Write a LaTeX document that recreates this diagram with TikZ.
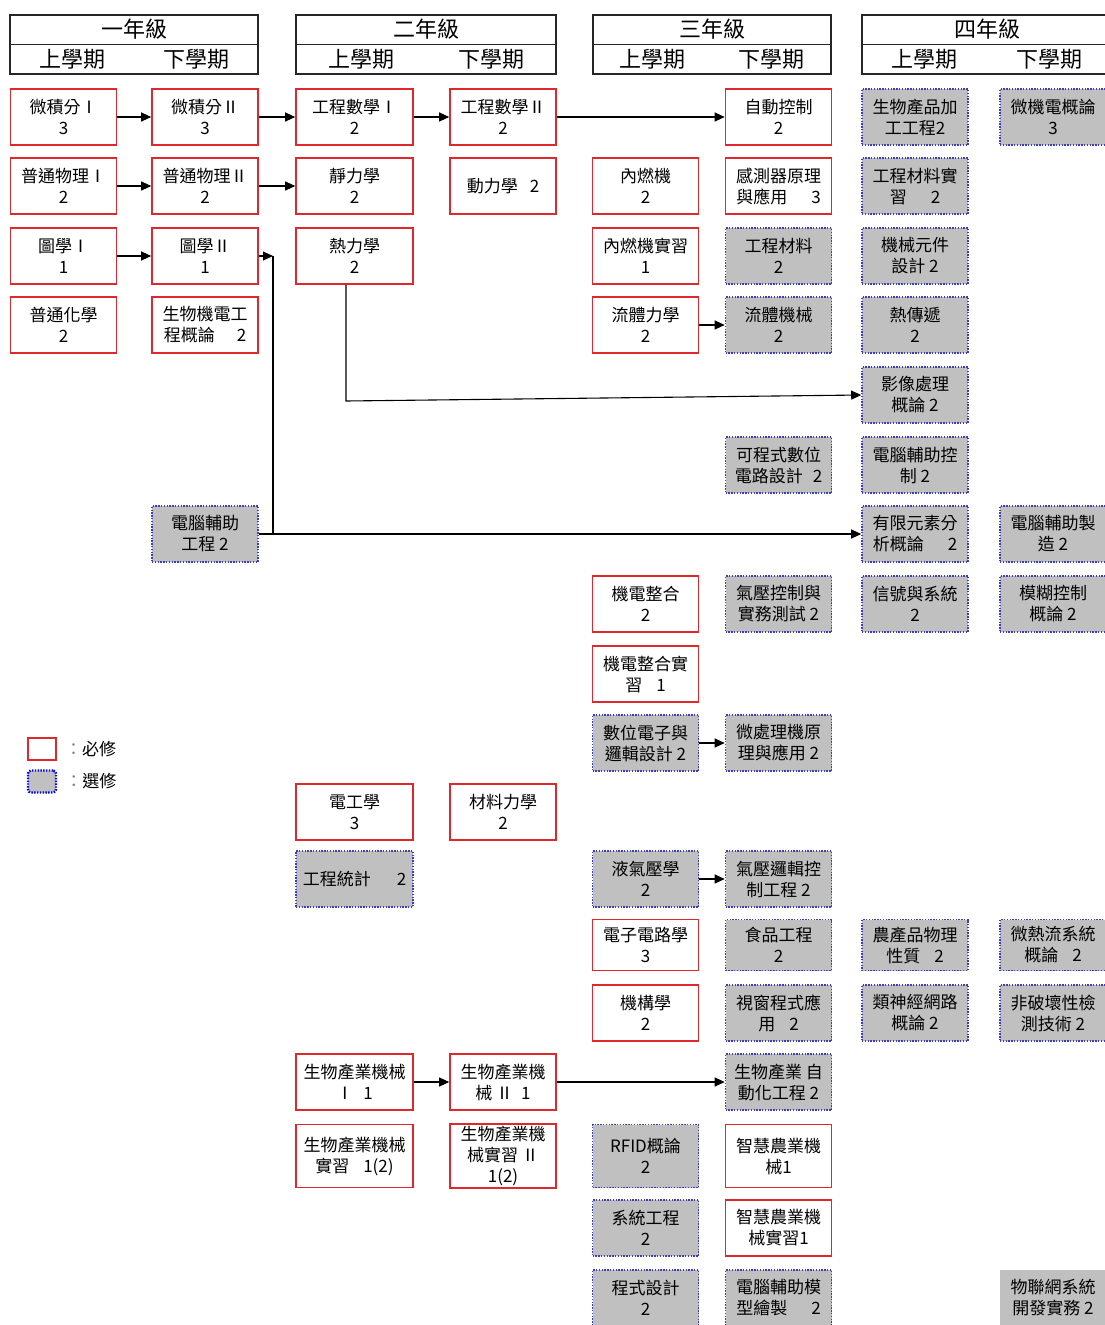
\documentclass[tikz,border=0pt]{standalone}
\usepackage{fontspec}
\setmainfont{Noto Sans CJK TC}
\usetikzlibrary{arrows.meta,positioning}
\definecolor{mustred}{RGB}{222,40,44}
\definecolor{elecblue}{RGB}{60,60,200}
\definecolor{elecgray}{RGB}{192,192,192}
\begin{document}
\begin{tikzpicture}[x=1pt,y=-1pt,>={Triangle[length=10pt,width=9pt]},
  every node/.style={font=\fontsize{17}{21}\selectfont,align=center,inner sep=2pt},
  must/.style={draw=mustred,line width=1.6pt,fill=white,minimum width=106pt,minimum height=56pt},
  elec/.style={draw=elecblue,line width=1.6pt,dash pattern=on 1.4pt off 1.4pt,fill=elecgray,minimum width=106pt,minimum height=56pt},
  plain/.style={fill=elecgray,minimum width=106pt,minimum height=56pt},
  yrbox/.style={draw=black!85,line width=1.5pt,minimum height=29.5pt,outer sep=0pt,font=\fontsize{22}{26}\selectfont},
  yrtxt/.style={font=\fontsize{22}{26}\selectfont},
  link/.style={line width=1.1pt}]
\useasboundingbox (0,0) rectangle (1105,1325);
\clip (0,0) rectangle (1105,1325);
% year headers
\foreach \n/\x/\w/\t in {yra/134/248/一年級,yrb/426/260/二年級,yrc/712/238/三年級,yrd/987/250/四年級}{
  \node[yrbox,minimum width=\w pt] (\n) at (\x,29.5) {\t};
  \node[yrbox,minimum width=\w pt,below=0pt of \n] (\n-sem) {};
  \node[yrtxt] (\n-up) at ({\x-\w/4},59.5) {上學期};
  \node[yrtxt] (\n-dn) at ({\x+\w/4},59.5) {下學期};
}
% required courses
\foreach \n/\x/\y/\t in {a1/63.5/117/{微積分Ⅰ\\3},b1/205/117/{微積分Ⅱ\\3},d1/503/117/{工程數學Ⅱ\\2},f1/778.5/117/{自動控制\\2},
  a2/63.5/186/{普通物理Ⅰ\\2},b2/205/186/{普通物理Ⅱ\\2},d2/503/186/{動力學\hspace{12pt}2},e2/645.5/186/{內燃機\\2},f2/778.5/186/{感測器原理\\與應用\hspace{24pt}3},
  a3/63.5/256/{圖學Ⅰ\\1},b3/205/256/{圖學Ⅱ\\1},e3/645.5/256/{內燃機實習\\1},
  a4/63.5/325/{普通化學\\2},b4/205/325/{生物機電工\\程概論\hspace{22pt}2},e4/645.5/325/{流體力學\\2},
  e8/645.5/604/{機電整合\\2},e9/645.5/674/{機電整合實\\習\hspace{14pt}1},d11/503/812/{材料力學\\2},
  e14/645.5/1013/{機構學\\2},d15/503/1082/{生物產業機\\械 Ⅱ\hspace{8pt}1},f17/778.5/1228/{智慧農業機\\械實習1}}
  \node[must] (\n) at (\x,\y) {\t};
\foreach \n/\y/\t in {c1/117/{工程數學Ⅰ\\2},c2/186/{靜力學\\2},c3/256/{熱力學\\2},c11/812/{電工學\\3},c15/1082/{生物產業機械\\Ⅰ\hspace{10pt}1}}
  \node[must,minimum width=117pt] (\n) at (354.5,\y) {\t};
\node[must,minimum width=117pt,minimum height=63pt] (c16) at (354.5,1156) {生物產業機械\\實習\hspace{14pt}1(2)};
\node[must,minimum height=63pt] (d16) at (503,1156) {生物產業機\\械實習 Ⅱ\\1(2)};
\node[must,minimum height=63pt] (f16) at (778.5,1156) {智慧農業機\\械1};
\node[must,minimum height=51pt] (e13) at (645.5,945) {電子電路學\\3};
% elective courses
\foreach \n/\x/\y/\t in {g1/915/117/{生物產品加\\工工程2},h1/1053/117/{微機電概論\\3},g2/915/186/{工程材料實\\習\hspace{24pt}2},
  f3/778.5/256/{工程材料\\2},g3/915/256/{機械元件\\設計 2},f4/778.5/325/{流體機械\\2},g4/915/325/{熱傳遞\\2},
  g5/915/395/{影像處理\\概論 2},f6/778.5/465/{可程式數位\\電路設計\hspace{10pt}2},g6/915/465/{電腦輔助控\\制 2},
  b7/205/534/{電腦輔助\\工程 2},g7/915/534/{有限元素分\\析概論\hspace{24pt}2},h7/1053/534/{電腦輔助製\\造 2},
  f8/778.5/604/{氣壓控制與\\實務測試 2},g8/915/604/{信號與系統\\2},h8/1053/604/{模糊控制\\概論 2},
  e10/645.5/743/{數位電子與\\邏輯設計 2},f10/778.5/743/{微處理機原\\理與應用 2},
  e12/645.5/879/{液氣壓學\\2},f12/778.5/879/{氣壓邏輯控\\制工程 2},
  f14/778.5/1013/{視窗程式應\\用\hspace{14pt}2},g14/915/1013/{類神經網路\\概論 2},h14/1053/1013/{非破壞性檢\\測技術 2},
  f15/778.5/1082/{生物產業 自\\動化工程 2},e17/645.5/1228/{系統工程\\2},e18/645.5/1298/{程式設計\\2},
  f18/778.5/1298/{電腦輔助模\\型繪製\hspace{24pt}2}}
  \node[elec] (\n) at (\x,\y) {\t};
\foreach \n/\x/\t in {f13/778.5/{食品工程\\2},g13/915/{農產品物理\\性質\hspace{14pt}2},h13/1053/{微熱流系統\\概論\hspace{14pt}2}}
  \node[elec,minimum height=51pt] (\n) at (\x,945) {\t};
\node[elec,minimum width=117pt] (c12) at (354.5,879) {工程統計\hspace{26pt}2};
\node[elec,minimum height=63pt] (e16) at (645.5,1156) {RFID概論\\2};
\node[plain] (h18) at (1053,1298) {物聯網系統\\開發實務 2};
% prerequisites
\foreach \p/\q in {a1/b1,b1/c1,c1/d1,d1/f1,a2/b2,b2/c2,a3/b3,e4/f4,e10/f10,e12/f12,c15/d15,d15/f15,b7/g7}
  \draw[link,->] (\p.east) -- (\q.west);
\coordinate (jn) at (273,256);
\draw[link,->] (b3.east) -- (jn);
\draw[link] (jn) -- (jn |- b7.east);
\coordinate (tk) at (346,401);
\draw[link,->] (c3.south -| tk) -- (tk) -- (g5.west);
% legend
\node[must,minimum width=28pt,minimum height=22pt] (lgmust) at (42,749) {};
\node[right=6pt of lgmust] (lgmusttxt) {{\color{gray}：}必修};
\node[elec,draw=blue,line width=2.4pt,rounded corners=3pt,minimum width=28pt,minimum height=22pt] (lgelec) at (42,781.5) {};
\node[right=6pt of lgelec] (lgelectxt) {{\color{gray}：}選修};
\end{tikzpicture}
\end{document}
